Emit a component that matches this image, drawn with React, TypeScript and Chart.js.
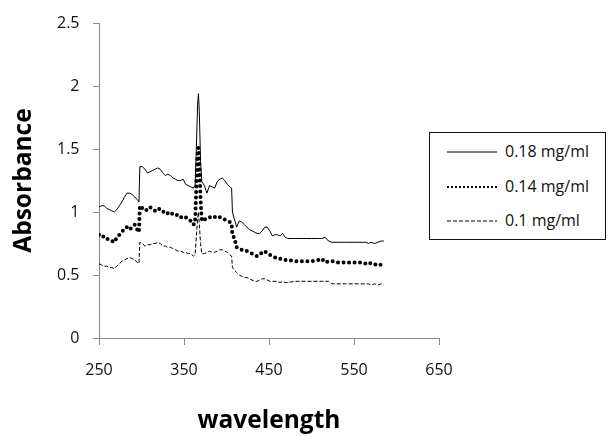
import React, { useEffect, useRef } from "react";
import { Chart, registerables } from "chart.js";

Chart.register(...registerables);

const wavelengths = [
  250, 253, 256, 259, 262, 265, 268, 271, 274, 277, 280, 283, 286, 289, 292, 295, 297, 298, 301, 304,
  307, 310, 313, 316, 319, 322, 325, 328, 331, 334, 337, 340, 343, 346, 349, 352, 355, 358, 361, 363,
  364.5, 366, 367, 368, 369.5, 371, 374, 377, 380, 383, 386, 389, 392, 395, 398, 401, 404, 406, 407, 409,
  412, 415, 418, 421, 424, 427, 430, 433, 436, 439, 442, 445, 448, 451, 454, 457, 460, 463, 466, 469,
  472, 480, 490, 500, 508, 512, 516, 520, 524, 530, 540, 550, 560, 564, 567, 570, 574, 578, 582, 585,
];

const abs018 = [
  1.04, 1.05, 1.05, 1.03, 1.02, 1.01, 1.0, 1.02, 1.05, 1.08, 1.12, 1.15, 1.15, 1.14, 1.12, 1.1, 1.08, 1.36, 1.36, 1.34,
  1.31, 1.32, 1.33, 1.34, 1.35, 1.34, 1.31, 1.29, 1.3, 1.29, 1.27, 1.26, 1.25, 1.25, 1.26, 1.22, 1.21, 1.2, 1.19, 1.21,
  1.5, 1.85, 1.94, 1.8, 1.4, 1.24, 1.21, 1.15, 1.21, 1.2, 1.19, 1.24, 1.26, 1.27, 1.25, 1.22, 1.2, 1.19, 1.0, 0.95,
  0.88, 0.93, 0.92, 0.9, 0.88, 0.86, 0.85, 0.84, 0.83, 0.83, 0.85, 0.88, 0.88, 0.85, 0.81, 0.82, 0.82, 0.81, 0.83, 0.8,
  0.79, 0.79, 0.79, 0.79, 0.79, 0.79, 0.8, 0.77, 0.76, 0.76, 0.76, 0.76, 0.76, 0.76, 0.75, 0.76, 0.75, 0.76, 0.77, 0.77,
];

const abs014 = [
  0.82, 0.8, 0.81, 0.79, 0.78, 0.77, 0.76, 0.8, 0.82, 0.84, 0.87, 0.88, 0.86, 0.88, 0.9, 0.86, 0.84, 1.05, 1.03, 1.01,
  1.02, 1.04, 1.02, 1.01, 1.03, 1.02, 1.0, 1.01, 0.99, 1.0, 0.98, 0.97, 0.98, 0.96, 0.95, 0.96, 0.94, 0.93, 0.9, 0.91,
  1.2, 1.45, 1.51, 1.4, 1.1, 0.93, 0.94, 0.95, 0.96, 0.95, 0.96, 0.97, 0.96, 0.95, 0.94, 0.93, 0.92, 0.91, 0.81, 0.8,
  0.72, 0.71, 0.7, 0.69, 0.69, 0.68, 0.67, 0.66, 0.65, 0.66, 0.68, 0.69, 0.67, 0.66, 0.65, 0.64, 0.64, 0.63, 0.63, 0.62,
  0.62, 0.61, 0.61, 0.61, 0.62, 0.63, 0.6, 0.61, 0.61, 0.6, 0.6, 0.6, 0.6, 0.59, 0.6, 0.59, 0.58, 0.59, 0.58, 0.58,
];

const abs010 = [
  0.59, 0.58, 0.57, 0.57, 0.56, 0.56, 0.55, 0.57, 0.59, 0.61, 0.62, 0.63, 0.64, 0.63, 0.62, 0.6, 0.59, 0.76, 0.75, 0.73,
  0.74, 0.74, 0.75, 0.75, 0.76, 0.75, 0.73, 0.73, 0.72, 0.72, 0.71, 0.7, 0.69, 0.69, 0.68, 0.68, 0.67, 0.67, 0.65, 0.66,
  0.8, 0.95, 1.0, 0.9, 0.75, 0.67, 0.67, 0.68, 0.69, 0.68, 0.68, 0.69, 0.7, 0.7, 0.69, 0.68, 0.66, 0.65, 0.56, 0.54,
  0.52, 0.5, 0.49, 0.48, 0.48, 0.47, 0.46, 0.45, 0.45, 0.46, 0.47, 0.47, 0.46, 0.45, 0.45, 0.45, 0.45, 0.44, 0.45, 0.44,
  0.44, 0.45, 0.45, 0.45, 0.45, 0.45, 0.45, 0.45, 0.43, 0.43, 0.43, 0.43, 0.43, 0.43, 0.43, 0.42, 0.43, 0.42, 0.43, 0.42,
];

const seriesLabels = ["0.18 mg/ml", "0.14 mg/ml", "0.1 mg/ml"];
const xTicks = [250, 350, 450, 550, 650];
const yTicks = [0, 0.5, 1, 1.5, 2, 2.5];
const xTitle = "wavelength";
const yTitle = "Absorbance";

const FONT = "'Open Sans', sans-serif";
const AXIS_GRAY = "#898989";

export default function App() {
  const ref = useRef<HTMLCanvasElement>(null);

  useEffect(() => {
    document.body.style.margin = "0";
    const toPts = (vals: number[]) => wavelengths.map((x, i) => ({ x, y: vals[i] }));
    const chart = new Chart(ref.current as HTMLCanvasElement, {
      type: "line",
      data: {
        datasets: [
          {
            label: seriesLabels[0],
            data: toPts(abs018),
            borderColor: "#000",
            borderWidth: 1,
            pointRadius: 0,
            tension: 0,
          },
          {
            label: seriesLabels[1],
            data: toPts(abs014),
            borderColor: "#000",
            borderWidth: 4,
            borderDash: [0, 5.5],
            borderCapStyle: "round",
            pointRadius: 0,
            tension: 0,
          },
          {
            label: seriesLabels[2],
            data: toPts(abs010),
            borderColor: "#000",
            borderWidth: 1,
            borderDash: [4, 2],
            pointRadius: 0,
            tension: 0,
          },
        ],
      },
      options: {
        responsive: false,
        animation: false,
        events: [],
        layout: { padding: { left: 0, top: 14, right: 169, bottom: 0 } },
        plugins: { legend: { display: false }, tooltip: { enabled: false } },
        scales: {
          x: {
            type: "linear",
            min: xTicks[0],
            max: xTicks[xTicks.length - 1],
            afterBuildTicks: (s: any) => {
              s.ticks = xTicks.map((v) => ({ value: v }));
            },
            ticks: {
              font: { family: FONT, size: 16 },
              color: "#111",
              padding: 16,
              maxRotation: 0,
              callback: (v: any) => String(v),
            },
            grid: { drawOnChartArea: false, drawTicks: true, tickLength: 7, color: AXIS_GRAY },
            border: { color: AXIS_GRAY, width: 1 },
            title: {
              display: true,
              text: xTitle,
              color: "#000",
              font: { family: FONT, size: 24.5, weight: "bold" },
              padding: { top: 4, bottom: 0 },
            },
            afterFit: (s: any) => {
              s.height = 98;
            },
          },
          y: {
            type: "linear",
            min: yTicks[0],
            max: yTicks[yTicks.length - 1],
            afterBuildTicks: (s: any) => {
              s.ticks = yTicks.map((v) => ({ value: v }));
            },
            ticks: {
              font: { family: FONT, size: 16 },
              color: "#111",
              padding: 13.5,
              callback: (v: any) => String(v),
            },
            grid: { drawOnChartArea: false, drawTicks: true, tickLength: 6, color: AXIS_GRAY },
            border: { color: AXIS_GRAY, width: 1 },
            title: {
              display: true,
              text: yTitle,
              color: "#000",
              font: { family: FONT, size: 24.5, weight: "bold" },
              padding: { top: 9, bottom: 0 },
            },
            afterFit: (s: any) => {
              s.width = 99;
            },
          },
        },
      },
    } as any);
    return () => chart.destroy();
  }, []);

  const rowCenters = [19, 54, 88];
  const strokes = [
    { w: 1, dash: undefined as string | undefined },
    { w: 2, dash: "2 2" },
    { w: 1, dash: "4 2" },
  ];

  return (
    <div style={{ position: "relative", width: 608, height: 436 }}>
      <canvas ref={ref} width={608} height={436} style={{ display: "block" }} />
      <div
        style={{
          position: "absolute",
          left: 429,
          top: 132,
          width: 177,
          height: 108,
          border: "1px solid #111",
          boxSizing: "border-box",
          background: "#fff",
          fontFamily: FONT,
          fontSize: 16,
          color: "#111",
        }}
      >
        {seriesLabels.map((lab, i) => (
          <React.Fragment key={lab}>
            <svg
              width={50}
              height={6}
              style={{ position: "absolute", left: 17, top: rowCenters[i] - 3 }}
            >
              <line
                x1={0}
                y1={3}
                x2={50}
                y2={3}
                stroke="#000"
                strokeWidth={strokes[i].w}
                strokeDasharray={strokes[i].dash}
              />
            </svg>
            <div
              style={{
                position: "absolute",
                left: 75,
                top: rowCenters[i] - 11,
                lineHeight: "20px",
                whiteSpace: "nowrap",
              }}
            >
              {lab}
            </div>
          </React.Fragment>
        ))}
      </div>
    </div>
  );
}
